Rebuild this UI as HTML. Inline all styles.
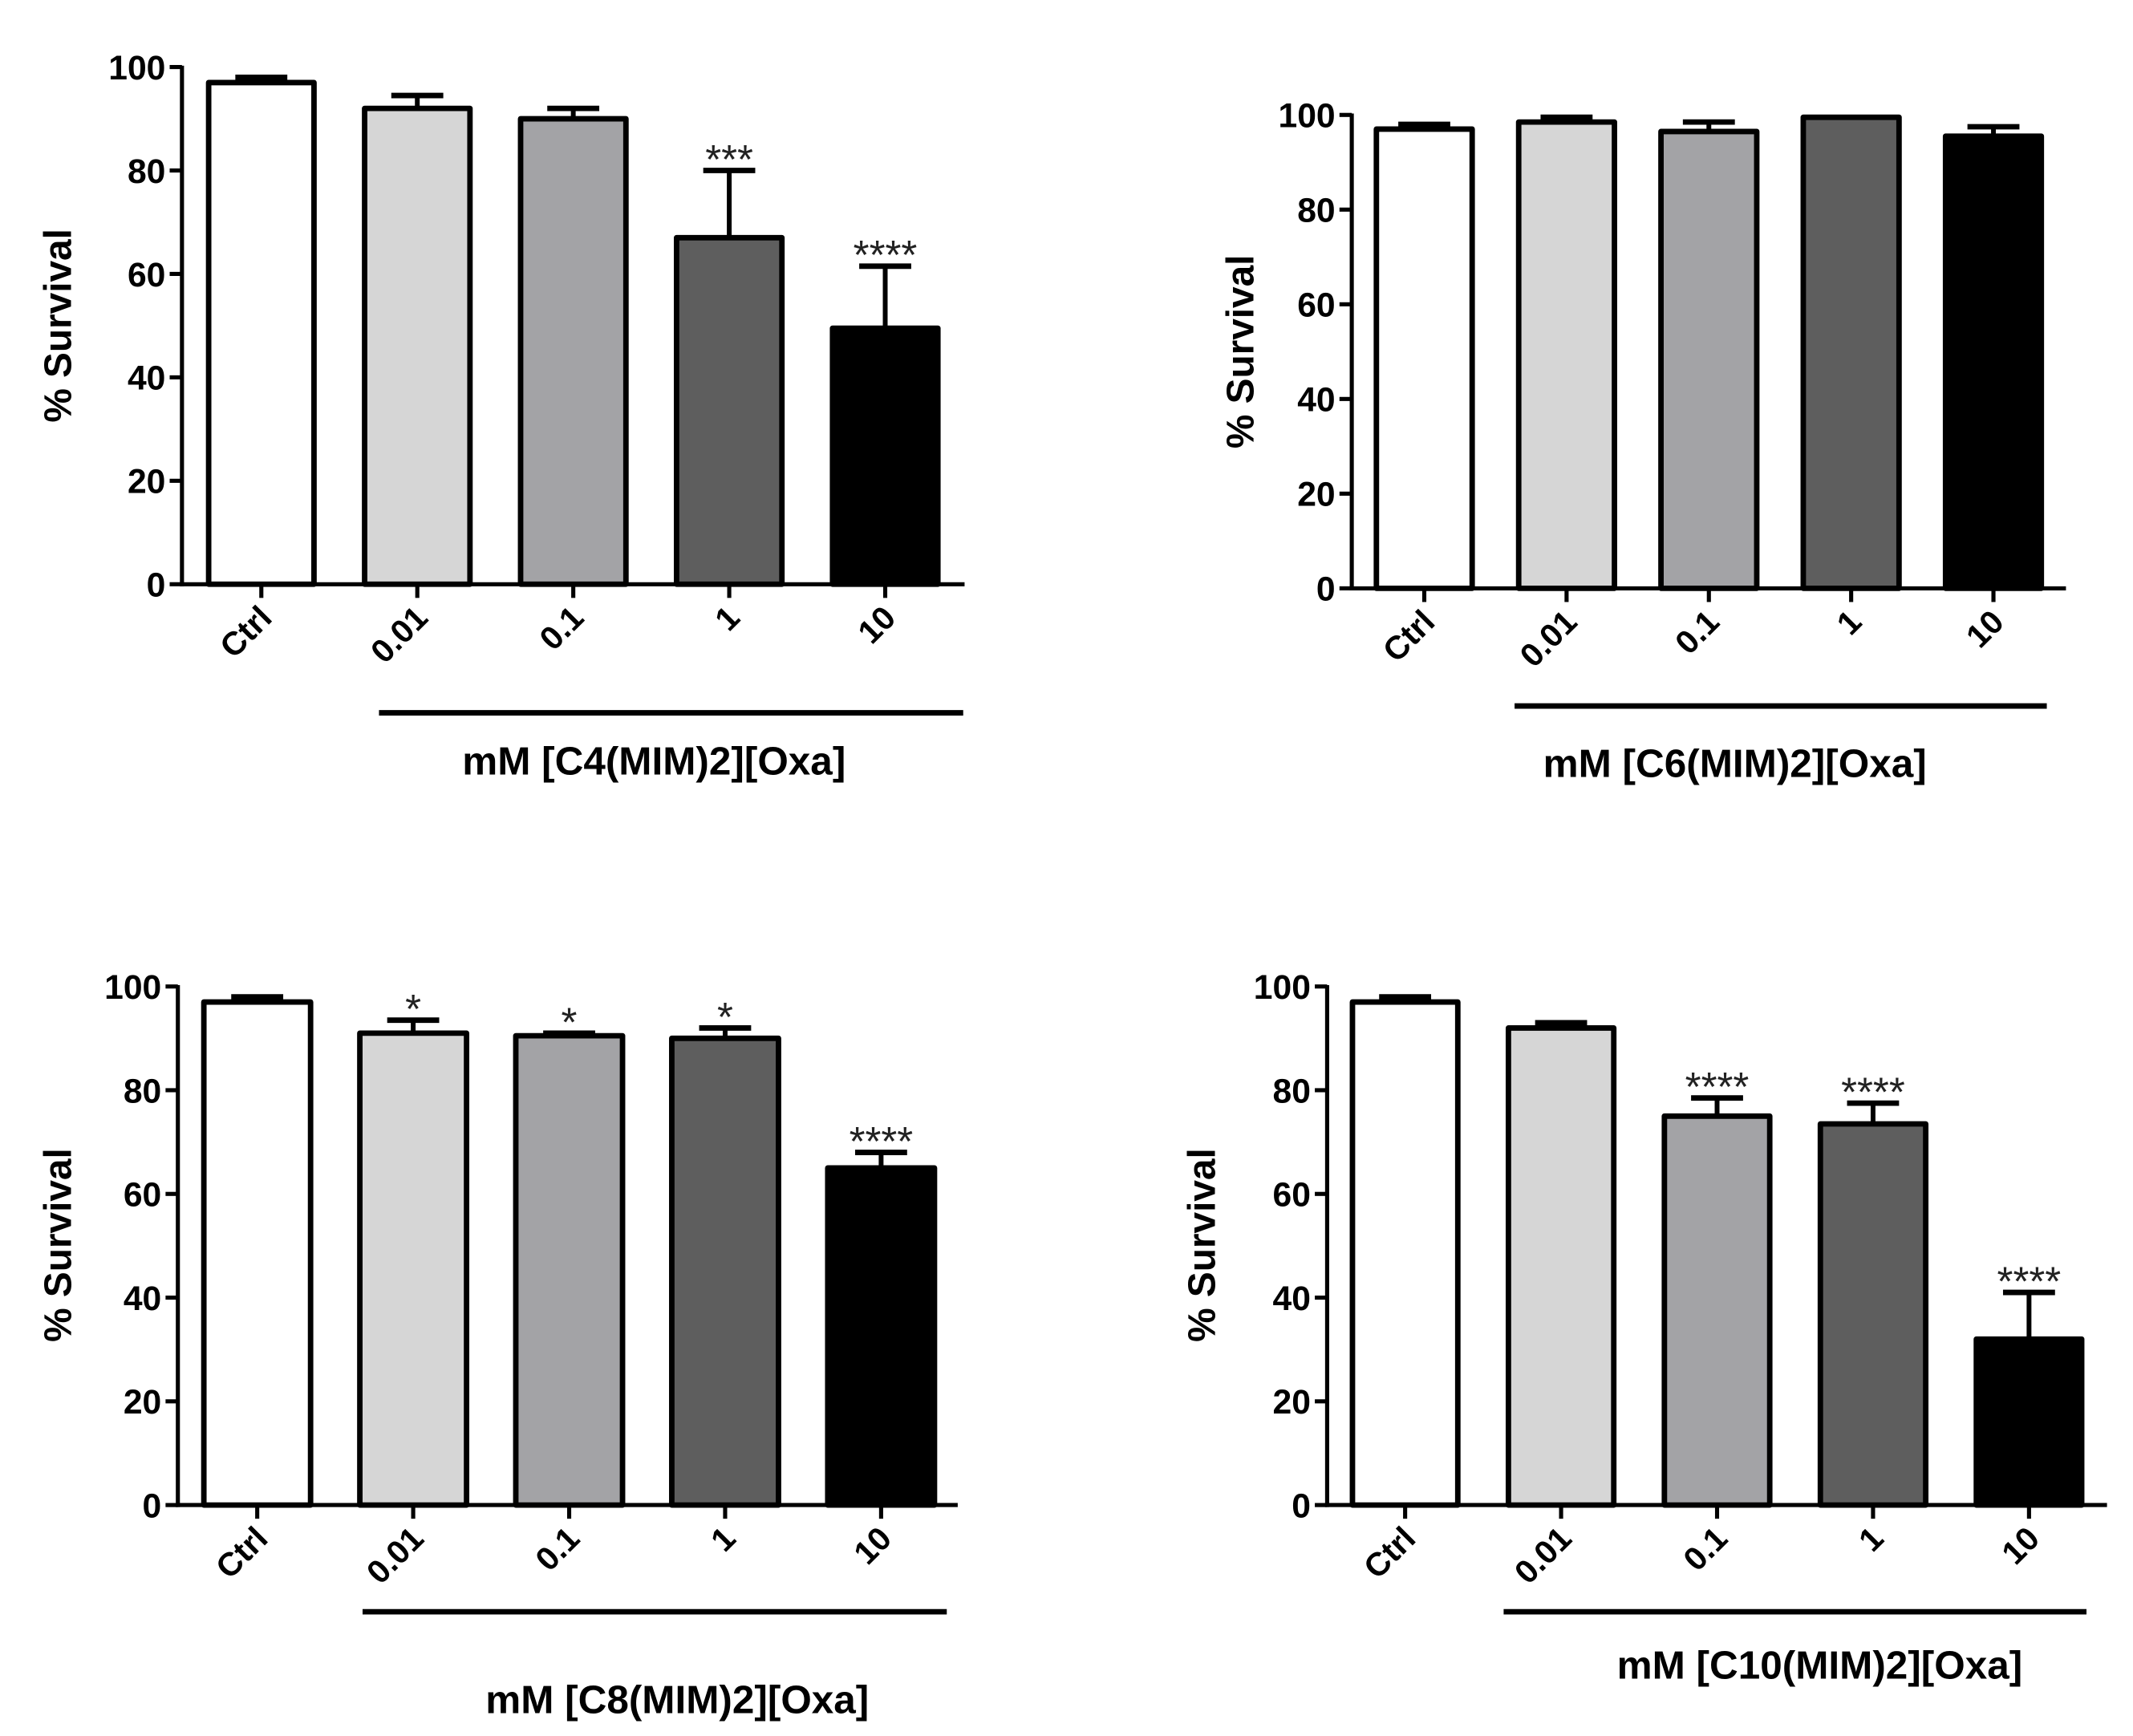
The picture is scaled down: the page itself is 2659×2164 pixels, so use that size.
<!DOCTYPE html>
<html><head><meta charset="utf-8">
<style>
html,body{margin:0;padding:0;background:#fff;}
svg{display:block;}
text{font-family:"Liberation Sans",Arial,sans-serif;}
</style></head>
<body>
<svg id="fig" width="2659" height="2164" viewBox="0 0 1559 1268.8" preserveAspectRatio="none" xmlns="http://www.w3.org/2000/svg"></svg>
<script>
const categories = ["Ctrl","0.01","0.1","1","10"];
const fills = ["#ffffff","#d6d6d6","#a3a3a6","#5e5e5e","#000000"];
const yTicks = [0,20,40,60,80,100];
const c4Values = [97,92,90,67,49.5];
const c4ErrTop = [98,94.5,92,80,61.5];
const c4Stars = ["","","","***","****"];
const c6Values = [97,98.5,96.5,99.5,95.5];
const c6ErrTop = [98,99.5,98.5,99.5,97.5];
const c6Stars = ["","","","",""];
const c8Values = [97,91,90.5,90,65];
const c8ErrTop = [98,93.5,91,92,68];
const c8Stars = ["","*","*","*","****"];
const c10Values = [97,92,75,73.5,32];
const c10ErrTop = [98,93,78.5,77.5,41];
const c10Stars = ["","","****","****","****"];
const titles = ["mM [C4(MIM)2][Oxa]","mM [C6(MIM)2][Oxa]","mM [C8(MIM)2][Oxa]","mM [C10(MIM)2][Oxa]"];

const NS="http://www.w3.org/2000/svg";
const svg=document.getElementById('fig');
function mk(tag,attrs,parent){const e=document.createElementNS(NS,tag);for(const k in attrs)e.setAttribute(k,attrs[k]);(parent||svg).appendChild(e);return e;}

const layouts=[
 {ax:133,y100:49,y0:427,first:191,step:114,bw:77,xend:705,brX1:277,brX2:704,brY:521,tX:478,tY:556,ylX:42,ylY:238},
 {ax:988,y100:84,y0:430,first:1041,step:104,bw:70,xend:1510,brX1:1107,brX2:1496,brY:516,tX:1268,tY:558,ylX:906,ylY:257},
 {ax:130,y100:721,y0:1100,first:188,step:114,bw:78,xend:700,brX1:265,brX2:692,brY:1178,tX:495,tY:1242,ylX:42,ylY:910},
 {ax:970,y100:721,y0:1100,first:1027,step:114,bw:77,xend:1540,brX1:1099,brX2:1525,brY:1178,tX:1330,tY:1217,ylX:878,ylY:910}
];
const dataSets=[[c4Values,c4ErrTop,c4Stars],[c6Values,c6ErrTop,c6Stars],[c8Values,c8ErrTop,c8Stars],[c10Values,c10ErrTop,c10Stars]];

layouts.forEach((L,pi)=>{
  const g=mk('g',{});
  
  
  const y=v=>L.y0-(L.y0-L.y100)*v/100;
  const x=i=>L.first+L.step*i;
  const [vals,errs,stars]=dataSets[pi];
  vals.forEach((v,i)=>{
    const cx=x(i);
    if(errs[i]>v){
      const el=mk('line',{x1:cx,x2:cx,y1:y(v),y2:y(errs[i]),stroke:'#000','stroke-width':3.5},g);
      
      
      const cap=mk('line',{x1:cx-19,x2:cx+19,y1:y(errs[i]),y2:y(errs[i]),stroke:'#000','stroke-width':4},g);
      
      
    }
    const r=mk('rect',{x:cx-L.bw/2,y:y(v),width:L.bw,height:y(0)-y(v),fill:fills[i],stroke:'#000','stroke-width':4,'stroke-linejoin':'round'},g);
    
    
    if(stars[i]){
      const s=mk('text',{x:cx,y:y(errs[i])+2,'text-anchor':'middle','font-size':30,fill:'#222'},g);
      s.textContent=stars[i];
      
      
    }
    const t=mk('line',{x1:cx,x2:cx,y1:L.y0,y2:L.y0+10,stroke:'#000','stroke-width':3},g);
    
    
    const lbl=mk('text',{x:0,y:0,'text-anchor':'end','font-size':24,'font-weight':'bold',transform:`translate(${cx+9},${L.y0+26}) rotate(-45)`},g);
    lbl.textContent=categories[i];
    
    
  });
  const ya=mk('line',{x1:L.ax,x2:L.ax,y1:L.y100-1,y2:L.y0+1.5,stroke:'#000','stroke-width':3},g);
  
  
  const xa=mk('line',{x1:L.ax-1.5,x2:L.xend,y1:L.y0,y2:L.y0,stroke:'#000','stroke-width':3},g);
  
  
  yTicks.forEach(v=>{
    const tk=mk('line',{x1:L.ax-9,x2:L.ax,y1:y(v),y2:y(v),stroke:'#000','stroke-width':3},g);
    
    
    const tl=mk('text',{x:L.ax-12,y:y(v)+9,'text-anchor':'end','font-size':25,'font-weight':'bold'},g);
    tl.textContent=v;
    
    
  });
  const yl=mk('text',{x:0,y:0,'text-anchor':'middle','font-size':28,'font-weight':'bold',transform:`translate(${L.ylX+10},${L.ylY}) rotate(-90)`},g);
  yl.textContent='% Survival';
  
  
  const br=mk('line',{x1:L.brX1,x2:L.brX2,y1:L.brY,y2:L.brY,stroke:'#000','stroke-width':4},g);
  
  
  const tt=mk('text',{x:L.tX,y:L.tY+10,'text-anchor':'middle','font-size':29,'font-weight':'bold'},g);
  tt.textContent=titles[pi];
  
  
});
</script>
</body></html>
